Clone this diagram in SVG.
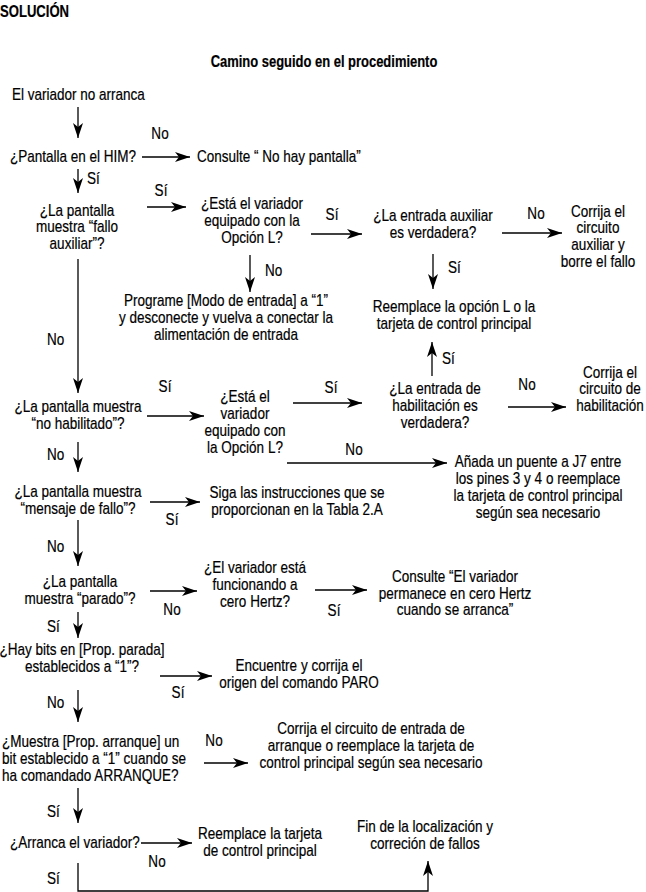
<svg xmlns="http://www.w3.org/2000/svg" width="646" height="892" viewBox="0 0 646 892">
<style>
text{font-family:"Liberation Sans",Arial,sans-serif;font-size:16px;fill:#000;stroke:#000;stroke-width:0.2}
.c{text-anchor:middle}
.b{font-weight:bold}
.ln{stroke:#000;stroke-width:1.3;fill:none}
.ar{marker-end:url(#ah)}
</style>
<defs>
<marker id="ah" markerWidth="15" markerHeight="10" refX="15" refY="5" orient="auto" markerUnits="userSpaceOnUse"><path d="M0,0 L15,5 L0,10 L4,5 Z" fill="#000"/></marker>
</defs>
<rect width="646" height="892" fill="#fff"/>
<text class="b" transform="matrix(.77 0 0 1 0 0)" y="17" style="font-size:17px">SOLUCIÓN</text>
<text class="b c" transform="matrix(.81 0 0 1 324 0)" y="67">Camino seguido en el procedimiento</text>

<g id="start"><text transform="matrix(.845 0 0 1 12 0)" y="100">El variador no arranca</text></g>
<g id="q-him"><text transform="matrix(.845 0 0 1 10 0)" y="162">¿Pantalla en el HIM?</text></g>
<g id="r-nohay"><text transform="matrix(.845 0 0 1 197 0)" y="162">Consulte “ No hay pantalla”</text></g>
<g id="q-fallo-aux"><text class="c" transform="matrix(.845 0 0 1 77 0)" y="216">¿La pantalla</text><text class="c" transform="matrix(.845 0 0 1 77 0)" y="232">muestra “fallo</text><text class="c" transform="matrix(.845 0 0 1 77 0)" y="249">auxiliar”?</text></g>
<g id="q-opcionL-1"><text class="c" transform="matrix(.845 0 0 1 252 0)" y="209">¿Está el variador</text><text class="c" transform="matrix(.845 0 0 1 252 0)" y="226">equipado con la</text><text class="c" transform="matrix(.845 0 0 1 252 0)" y="243">Opción L?</text></g>
<g id="q-aux-true"><text class="c" transform="matrix(.845 0 0 1 433 0)" y="221">¿La entrada auxiliar</text><text class="c" transform="matrix(.845 0 0 1 433 0)" y="238">es verdadera?</text></g>
<g id="r-corr-aux"><text class="c" transform="matrix(.845 0 0 1 598 0)" y="217">Corrija el</text><text class="c" transform="matrix(.845 0 0 1 598 0)" y="233">circuito</text><text class="c" transform="matrix(.845 0 0 1 598 0)" y="250">auxiliar y</text><text class="c" transform="matrix(.845 0 0 1 598 0)" y="267">borre el fallo</text></g>
<g id="r-reempL"><text class="c" transform="matrix(.845 0 0 1 454 0)" y="312">Reemplace la opción L o la</text><text class="c" transform="matrix(.845 0 0 1 454 0)" y="329">tarjeta de control principal</text></g>
<g id="r-programe"><text class="c" transform="matrix(.845 0 0 1 226 0)" y="306">Programe [Modo de entrada] a “1”</text><text class="c" transform="matrix(.845 0 0 1 226 0)" y="323">y desconecte y vuelva a conectar la</text><text class="c" transform="matrix(.845 0 0 1 226 0)" y="340">alimentación de entrada</text></g>
<g id="q-nohab"><text class="c" transform="matrix(.845 0 0 1 78 0)" y="412">¿La pantalla muestra</text><text class="c" transform="matrix(.845 0 0 1 78 0)" y="429">“no habilitado”?</text></g>
<g id="q-opcionL-2"><text class="c" transform="matrix(.845 0 0 1 245 0)" y="402">¿Está el</text><text class="c" transform="matrix(.845 0 0 1 245 0)" y="419">variador</text><text class="c" transform="matrix(.845 0 0 1 245 0)" y="436">equipado con</text><text class="c" transform="matrix(.845 0 0 1 245 0)" y="453">la Opción L?</text></g>
<g id="q-hab-true"><text class="c" transform="matrix(.845 0 0 1 435 0)" y="394">¿La entrada de</text><text class="c" transform="matrix(.845 0 0 1 435 0)" y="411">habilitación es</text><text class="c" transform="matrix(.845 0 0 1 435 0)" y="428">verdadera?</text></g>
<g id="r-corr-hab"><text class="c" transform="matrix(.845 0 0 1 610 0)" y="378">Corrija el</text><text class="c" transform="matrix(.845 0 0 1 610 0)" y="394">circuito de</text><text class="c" transform="matrix(.845 0 0 1 610 0)" y="411">habilitación</text></g>
<g id="r-puente"><text class="c" transform="matrix(.845 0 0 1 538 0)" y="467">Añada un puente a J7 entre</text><text class="c" transform="matrix(.845 0 0 1 538 0)" y="484">los pines 3 y 4 o reemplace</text><text class="c" transform="matrix(.845 0 0 1 538 0)" y="501">la tarjeta de control principal</text><text class="c" transform="matrix(.845 0 0 1 538 0)" y="518">según sea necesario</text></g>
<g id="q-msjfallo"><text class="c" transform="matrix(.845 0 0 1 78 0)" y="497">¿La pantalla muestra</text><text class="c" transform="matrix(.845 0 0 1 78 0)" y="514">“mensaje de fallo”?</text></g>
<g id="r-tabla"><text class="c" transform="matrix(.845 0 0 1 297 0)" y="498">Siga las instrucciones que se</text><text class="c" transform="matrix(.845 0 0 1 297 0)" y="515">proporcionan en la Tabla 2.A</text></g>
<g id="q-parado"><text class="c" transform="matrix(.845 0 0 1 80 0)" y="587">¿La pantalla</text><text class="c" transform="matrix(.845 0 0 1 80 0)" y="604">muestra “parado”?</text></g>
<g id="q-cero"><text class="c" transform="matrix(.845 0 0 1 255 0)" y="573">¿El variador está</text><text class="c" transform="matrix(.845 0 0 1 255 0)" y="590">funcionando a</text><text class="c" transform="matrix(.845 0 0 1 255 0)" y="607">cero Hertz?</text></g>
<g id="r-cero"><text class="c" transform="matrix(.845 0 0 1 455 0)" y="582">Consulte “El variador</text><text class="c" transform="matrix(.845 0 0 1 455 0)" y="599">permanece en cero Hertz</text><text class="c" transform="matrix(.845 0 0 1 455 0)" y="615">cuando se arranca”</text></g>
<g id="q-bits-parada"><text class="c" transform="matrix(.845 0 0 1 82 0)" y="655">¿Hay bits en [Prop. parada]</text><text class="c" transform="matrix(.845 0 0 1 82 0)" y="672">establecidos a “1”?</text></g>
<g id="r-paro"><text class="c" transform="matrix(.845 0 0 1 299 0)" y="671">Encuentre y corrija el</text><text class="c" transform="matrix(.845 0 0 1 299 0)" y="688">origen del comando PARO</text></g>
<g id="q-bits-arranque"><text transform="matrix(.845 0 0 1 2 0)" y="747">¿Muestra [Prop. arranque] un</text><text transform="matrix(.845 0 0 1 2 0)" y="764">bit establecido a “1” cuando se</text><text transform="matrix(.845 0 0 1 2 0)" y="781">ha comandado ARRANQUE?</text></g>
<g id="r-arranque"><text class="c" transform="matrix(.845 0 0 1 371 0)" y="734">Corrija el circuito de entrada de</text><text class="c" transform="matrix(.845 0 0 1 371 0)" y="751">arranque o reemplace la tarjeta de</text><text class="c" transform="matrix(.845 0 0 1 371 0)" y="768">control principal según sea necesario</text></g>
<g id="q-arranca"><text transform="matrix(.845 0 0 1 10 0)" y="848">¿Arranca el variador?</text></g>
<g id="r-reemp-tarjeta"><text class="c" transform="matrix(.845 0 0 1 260 0)" y="839">Reemplace la tarjeta</text><text class="c" transform="matrix(.845 0 0 1 260 0)" y="856">de control principal</text></g>
<g id="fin"><text class="c" transform="matrix(.845 0 0 1 425 0)" y="832">Fin de la localización y</text><text class="c" transform="matrix(.845 0 0 1 425 0)" y="849">correción de fallos</text></g>

<g id="connectors">
<line class="ln ar" x1="78" y1="107" x2="78" y2="138"/>
<line class="ln ar" x1="142" y1="157" x2="190" y2="157"/><text class="c" transform="matrix(.845 0 0 1 160 0)" y="139">No</text>
<line class="ln ar" x1="78" y1="169" x2="78" y2="193"/><text transform="matrix(.845 0 0 1 87 0)" y="184">Sí</text>
<line class="ln ar" x1="147" y1="207" x2="186" y2="207"/><text class="c" transform="matrix(.845 0 0 1 161 0)" y="196">Sí</text>
<line class="ln ar" x1="311" y1="234" x2="362" y2="234"/><text class="c" transform="matrix(.845 0 0 1 332 0)" y="220">Sí</text>
<line class="ln ar" x1="502" y1="233" x2="562" y2="233"/><text class="c" transform="matrix(.845 0 0 1 536 0)" y="219">No</text>
<line class="ln ar" x1="433" y1="254" x2="433" y2="289"/><text transform="matrix(.845 0 0 1 448 0)" y="273">Sí</text>
<line class="ln ar" x1="250" y1="255" x2="250" y2="292"/><text transform="matrix(.845 0 0 1 265 0)" y="276">No</text>
<line class="ln ar" x1="78" y1="259" x2="78" y2="393"/><text transform="matrix(.845 0 0 1 47 0)" y="345">No</text>
<line class="ln ar" x1="147" y1="416" x2="204" y2="416"/><text class="c" transform="matrix(.845 0 0 1 165 0)" y="392">Sí</text>
<line class="ln ar" x1="293" y1="403" x2="362" y2="403"/><text class="c" transform="matrix(.845 0 0 1 331 0)" y="393">Sí</text>
<line class="ln ar" x1="432" y1="376" x2="432" y2="342"/><text transform="matrix(.845 0 0 1 442 0)" y="364">Sí</text>
<line class="ln ar" x1="508" y1="407" x2="566" y2="407"/><text class="c" transform="matrix(.845 0 0 1 527 0)" y="390">No</text>
<line class="ln ar" x1="287" y1="463" x2="447" y2="463"/><text class="c" transform="matrix(.845 0 0 1 354 0)" y="455">No</text>
<line class="ln ar" x1="78" y1="442" x2="78" y2="472"/><text transform="matrix(.845 0 0 1 47 0)" y="460">No</text>
<line class="ln ar" x1="150" y1="502" x2="200" y2="502"/><text class="c" transform="matrix(.845 0 0 1 172 0)" y="525">Sí</text>
<line class="ln ar" x1="78" y1="520" x2="78" y2="566"/><text transform="matrix(.845 0 0 1 47 0)" y="552">No</text>
<line class="ln ar" x1="150" y1="591" x2="197" y2="591"/><text class="c" transform="matrix(.845 0 0 1 172 0)" y="615">No</text>
<line class="ln ar" x1="315" y1="590" x2="367" y2="590"/><text class="c" transform="matrix(.845 0 0 1 334 0)" y="616">Sí</text>
<line class="ln ar" x1="78" y1="612" x2="78" y2="638"/><text transform="matrix(.845 0 0 1 47 0)" y="632">Sí</text>
<line class="ln ar" x1="160" y1="676" x2="212" y2="676"/><text class="c" transform="matrix(.845 0 0 1 178 0)" y="698">Sí</text>
<line class="ln ar" x1="78" y1="690" x2="78" y2="722"/><text transform="matrix(.845 0 0 1 47 0)" y="708">No</text>
<line class="ln ar" x1="204" y1="763" x2="248" y2="763"/><text class="c" transform="matrix(.845 0 0 1 214 0)" y="746">No</text>
<line class="ln ar" x1="78" y1="788" x2="78" y2="823"/><text transform="matrix(.845 0 0 1 47 0)" y="817">Sí</text>
<line class="ln ar" x1="141" y1="843" x2="192" y2="843"/><text class="c" transform="matrix(.845 0 0 1 157 0)" y="867">No</text>
<path class="ln ar" d="M78,863 V891 H428 V861"/><text transform="matrix(.845 0 0 1 47 0)" y="884">Sí</text>
</g>
</svg>
